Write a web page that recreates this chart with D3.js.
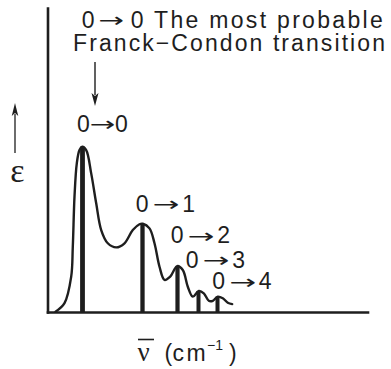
<!DOCTYPE html>
<html>
<head>
<meta charset="utf-8">
<script src="https://cdn.jsdelivr.net/npm/d3@7/dist/d3.min.js"></script>
<style>
  html, body { margin: 0; padding: 0; background: #fff; }
  svg { display: block; }
  text { font-family: "Liberation Sans", Arial, Helvetica, sans-serif; fill: #1e1e1e; }
</style>
</head>
<body>
<svg id="chart" width="391" height="369"></svg>
<script>
// Vibronic transitions 0 -> v' (position on the wavenumber axis, relative intensity)
const transitions = ["0\u21920", "0\u21921", "0\u21922", "0\u21923", "0\u21924"];
const transitionPos = [3.5, 9.5, 13.0, 15.1, 17.0];
const transitionHeight = [1.0, 0.534, 0.278, 0.127, 0.093];

// Absorption envelope (relative wavenumber, relative epsilon)
const bandX = [0.80, 1.70, 2.37, 2.53, 2.70, 2.93, 3.20, 3.47, 3.87, 4.37, 4.87, 5.37,
  6.03, 6.87, 7.70, 8.53, 9.20, 9.53, 10.20, 10.70, 11.20, 11.70, 12.27, 12.97,
  13.53, 14.03, 14.53, 15.13, 15.63, 16.13, 16.53, 17.03, 17.53, 18.03, 18.47];
const bandY = [0.002, 0.054, 0.214, 0.395, 0.698, 0.900, 0.980, 1.000, 0.980, 0.839, 0.658, 0.496,
  0.416, 0.391, 0.416, 0.496, 0.531, 0.534, 0.506, 0.416, 0.274, 0.194, 0.214, 0.278,
  0.254, 0.153, 0.093, 0.127, 0.113, 0.068, 0.068, 0.093, 0.083, 0.056, 0.048];

const titleLines = ["0\u21920 The most probable", "Franck\u2212Condon transition"];
const yLabel = "\u03b5";
const xLabelParts = ["\u03bd", "(", "cm", "\u22121", ")"];

const svg = d3.select("#chart");
const ink = "#1e1e1e";
const ARROW = "\u2192";

const x = d3.scaleLinear().domain([0, 32]).range([47.5, 367.5]);
const y = d3.scaleLinear().domain([0, 1.84]).range([312, 8]);

// Axes: plain lines, no ticks
const xAxis = svg.append("g").attr("transform", `translate(0,${y(0)})`)
  .call(d3.axisBottom(x).tickValues([]).tickSizeOuter(0));
const yAxis = svg.append("g").attr("transform", `translate(${x(0)},0)`)
  .call(d3.axisLeft(y).tickValues([]).tickSizeOuter(0));
[xAxis, yAxis].forEach(g => g.select(".domain")
  .attr("stroke", ink).attr("stroke-width", 2.6).attr("stroke-linecap", "square"));

// Transition bars
const barW = [4.8, 4.3, 4.2, 4.0, 4.0];
svg.append("g").selectAll("rect").data(transitionPos).join("rect")
  .attr("x", (d, i) => x(d) - barW[i] / 2)
  .attr("width", (d, i) => barW[i])
  .attr("y", (d, i) => y(transitionHeight[i]))
  .attr("height", (d, i) => y(0) - y(transitionHeight[i]))
  .attr("fill", ink);

// Envelope
const line = d3.line().x(d => x(d[0])).y(d => y(d[1])).curve(d3.curveCatmullRom.alpha(0.5));
svg.append("path")
  .datum(d3.zip(bandX, bandY))
  .attr("d", line)
  .attr("fill", "none")
  .attr("stroke", ink)
  .attr("stroke-width", 2.4)
  .attr("stroke-linejoin", "round")
  .attr("stroke-linecap", "round");

// "a -> b" text: left part, a long stretched arrow, right part
// layout: [arrowStart, arrowInkWidth, rightStart] measured from the left edge
function arrowText(g, label, left, base, layout, rightLen) {
  const [a, b] = label.split(ARROW);
  const [arrowStart, arrowInk, rightStart] = layout;
  g.append("text").attr("x", left - 1).attr("y", base).attr("font-size", 23).text(a);
  const T = arrowInk / 0.86;
  g.append("text")
    .attr("x", left + arrowStart - 0.07 * T).attr("y", base - 0.5)
    .attr("font-size", 20)
    .style("font-family", "'DejaVu Sans', sans-serif")
    .attr("textLength", T).attr("lengthAdjust", "spacingAndGlyphs")
    .text(ARROW);
  const r = g.append("text").attr("x", left + rightStart - 1).attr("y", base)
    .attr("font-size", 23).text(b);
  if (rightLen) r.attr("textLength", rightLen).attr("lengthAdjust", "spacing");
}

// Transition labels
const labelDx = [-4.5, -5.8, -5.8, -11.8, -4.2];
const labelDy = [-15, -12, -22.8, -23.5, -7.2];
const labelLayout = [[13.5, 22, 38], [18, 23, 46.5], [18, 23, 46.5], [18, 23, 46.5], [18, 23, 46.5]];
const labels = svg.append("g");
transitions.forEach((t, i) => {
  arrowText(labels, t, x(transitionPos[i]) + labelDx[i],
    y(transitionHeight[i]) + labelDy[i], labelLayout[i]);
});

// Annotation text
arrowText(svg.append("g"), titleLines[0], 82.7, 27.5, [17.5, 22, 49], 252);
svg.append("text").attr("x", 73).attr("y", 50.5).attr("font-size", 23)
  .attr("textLength", 312).attr("lengthAdjust", "spacing").text(titleLines[1]);

// Arrow markers
function arrowDown(cx, y0, y1, w, len, sw) {
  svg.append("line").attr("x1", cx).attr("x2", cx).attr("y1", y0).attr("y2", y1 - len + 2)
    .attr("stroke", ink).attr("stroke-width", sw);
  svg.append("path")
    .attr("d", `M${cx},${y1} L${cx - w / 2},${y1 - len} L${cx},${y1 - len + 3} L${cx + w / 2},${y1 - len} Z`)
    .attr("fill", ink);
}
function arrowUp(cx, y0, y1, w, len, sw) {
  svg.append("line").attr("x1", cx).attr("x2", cx).attr("y1", y0).attr("y2", y1 + len - 2)
    .attr("stroke", ink).attr("stroke-width", sw);
  svg.append("path")
    .attr("d", `M${cx},${y1} L${cx - w / 2},${y1 + len} L${cx},${y1 + len - 3} L${cx + w / 2},${y1 + len} Z`)
    .attr("fill", ink);
}
arrowDown(95, 62, 106, 7, 13, 1.4);
arrowUp(15, 153, 103, 6.5, 13, 1.3);

// Y-axis label
svg.append("text").attr("x", 17.5).attr("y", 182).attr("text-anchor", "middle")
  .style("font-family", "'Liberation Serif', 'Times New Roman', serif")
  .attr("font-size", 34).text(yLabel);

// X-axis label: nu-bar (cm^-1)
const serif = "'Liberation Serif', 'Times New Roman', serif";
svg.append("text").attr("x", 137.5).attr("y", 361)
  .style("font-family", serif).attr("font-size", 27).text(xLabelParts[0]);
svg.append("line").attr("x1", 138).attr("x2", 154).attr("y1", 339.5).attr("y2", 339.5)
  .attr("stroke", ink).attr("stroke-width", 1.6);
const xl = svg.append("text").attr("y", 361).attr("font-size", 23);
xl.append("tspan").attr("x", 164.5).text(xLabelParts[1]);
xl.append("tspan").attr("x", 172.5).attr("letter-spacing", 2.5).text(xLabelParts[2]);
xl.append("tspan").attr("x", 207).attr("y", 350).attr("font-size", 14).text(xLabelParts[3]);
xl.append("tspan").attr("x", 229).attr("y", 361).text(xLabelParts[4]);
</script>
</body>
</html>
